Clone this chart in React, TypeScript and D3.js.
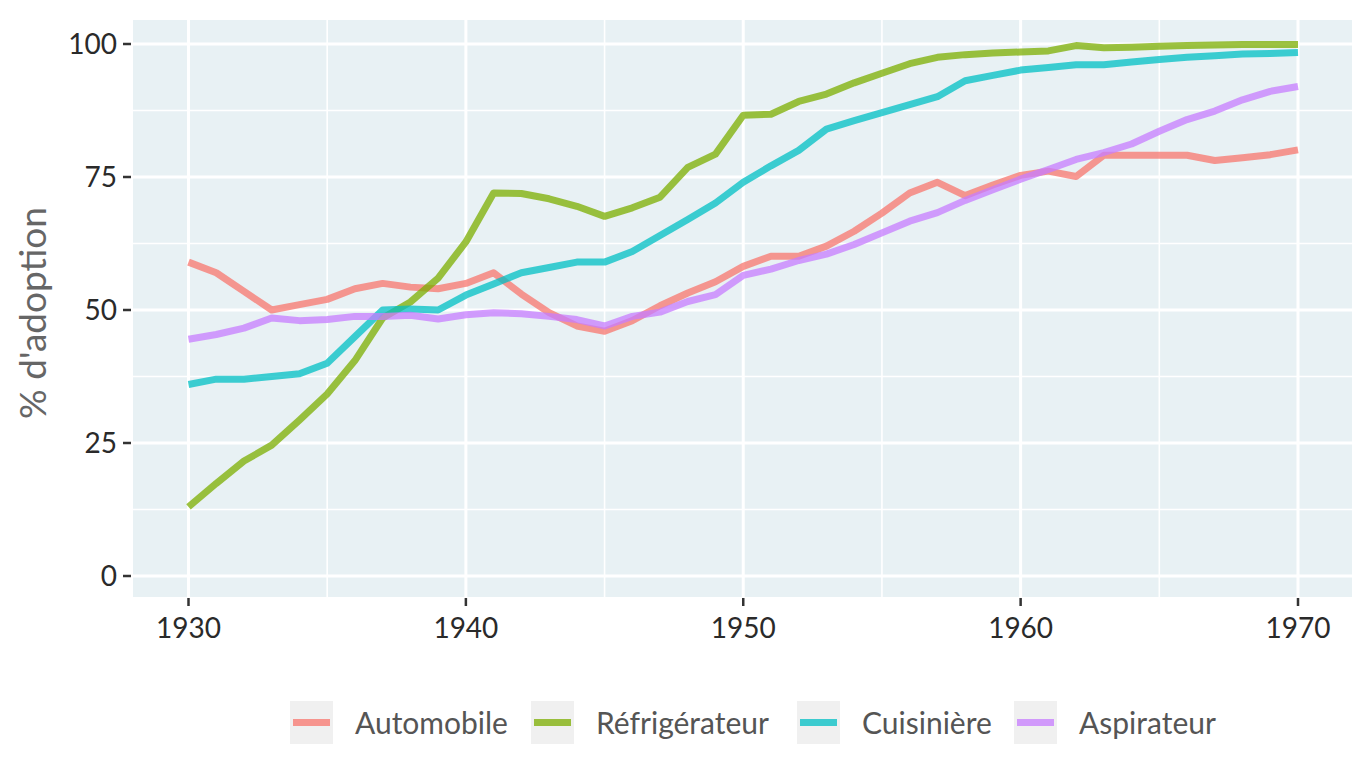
import React from "react";
import * as d3 from "d3";

const years = d3.range(1930, 1971);

const automobile = [59, 57, 53.5, 50, 51, 52, 54, 55, 54.3, 54, 55, 57, 53, 49.5, 47, 46, 48, 50.8, 53.2, 55.3, 58.2, 60.1, 60.1, 62, 64.8, 68.2, 72, 74, 71.5, 73.5, 75.3, 76.1, 75.1, 79.1, 79.1, 79.1, 79.1, 78.1, 78.6, 79.2, 80.1];
const refrigerateur = [13, 17.4, 21.6, 24.6, 29.3, 34.2, 40.5, 48.5, 51.5, 56, 62.8, 72, 71.9, 70.9, 69.5, 67.6, 69.2, 71.2, 76.8, 79.3, 86.6, 86.8, 89.2, 90.6, 92.7, 94.5, 96.3, 97.5, 98, 98.3, 98.5, 98.7, 99.7, 99.3, 99.4, 99.6, 99.7, 99.8, 99.9, 99.9, 99.9];
const cuisiniere = [36, 37, 37, 37.5, 38, 40, 45, 50, 50.2, 50, 52.8, 54.9, 57, 58, 59, 59, 61, 64, 67, 70.1, 74, 77.1, 80, 84, 85.6, 87.1, 88.6, 90.1, 93.1, 94.1, 95.1, 95.6, 96.1, 96.1, 96.6, 97.1, 97.5, 97.8, 98.1, 98.2, 98.4];
const aspirateur = [44.5, 45.4, 46.6, 48.5, 48, 48.2, 48.8, 48.8, 49, 48.3, 49.1, 49.5, 49.3, 48.8, 48.2, 47, 48.8, 49.6, 51.6, 52.9, 56.5, 57.7, 59.3, 60.5, 62.3, 64.5, 66.7, 68.3, 70.6, 72.6, 74.6, 76.4, 78.3, 79.6, 81.2, 83.6, 85.8, 87.4, 89.5, 91.1, 92];

const seriesNames = ["Automobile", "Réfrigérateur", "Cuisinière", "Aspirateur"];
const seriesValues = [automobile, refrigerateur, cuisiniere, aspirateur];
const seriesColors = ["#F8766D", "#7CAE00", "#00BFC4", "#C77CFF"];

const yMajor = [0, 25, 50, 75, 100];
const yMinor = [12.5, 37.5, 62.5, 87.5];
const xMajor = [1930, 1940, 1950, 1960, 1970];
const xMinor = [1935, 1945, 1955, 1965];

export default function App() {
  const W = 1372, H = 784;
  const panel = { left: 133, right: 1352, top: 20, bottom: 597 };
  const x = d3.scaleLinear().domain([1930, 1970]).range([188.5, 1298]);
  const y = d3.scaleLinear().domain([0, 100]).range([576, 44]);
  const line = d3.line<number>().x((_, i) => x(years[i])).y((v) => y(v));

  const legendX = [290, 531, 797, 1014];
  const legendY = 701;
  const font = "Lato, 'Open Sans', sans-serif";

  return (
    <svg width={W} height={H} style={{ position: "absolute", left: 0, top: 0, background: "#fff" }}>
      <rect x={panel.left} y={panel.top} width={panel.right - panel.left} height={panel.bottom - panel.top} fill="#E8F1F4" />
      {yMinor.map((v) => (
        <line key={"ym" + v} x1={panel.left} x2={panel.right} y1={y(v)} y2={y(v)} stroke="#fff" strokeWidth={1.6} />
      ))}
      {xMinor.map((v) => (
        <line key={"xm" + v} y1={panel.top} y2={panel.bottom} x1={x(v)} x2={x(v)} stroke="#fff" strokeWidth={1.6} />
      ))}
      {yMajor.map((v) => (
        <line key={"yM" + v} x1={panel.left} x2={panel.right} y1={y(v)} y2={y(v)} stroke="#fff" strokeWidth={3} />
      ))}
      {xMajor.map((v) => (
        <line key={"xM" + v} y1={panel.top} y2={panel.bottom} x1={x(v)} x2={x(v)} stroke="#fff" strokeWidth={3} />
      ))}
      {seriesValues.map((vals, i) => (
        <path key={seriesNames[i]} d={line(vals) || ""} fill="none" stroke={seriesColors[i]} strokeOpacity={0.75} strokeWidth={7} strokeLinejoin="round" />
      ))}
      {yMajor.map((v) => (
        <g key={"yt" + v}>
          <line x1={123} x2={131} y1={y(v)} y2={y(v)} stroke="#333" strokeWidth={2.5} />
          <text x={117} y={y(v)} dy="0.36em" textAnchor="end" fontFamily={font} fontSize={28} fill="#2a2a2a">{v}</text>
        </g>
      ))}
      {xMajor.map((v) => (
        <g key={"xt" + v}>
          <line x1={x(v)} x2={x(v)} y1={598} y2={606} stroke="#333" strokeWidth={2.5} />
          <text x={x(v)} y={638} textAnchor="middle" fontFamily={font} fontSize={28} fill="#2a2a2a">{v}</text>
        </g>
      ))}
      <text transform="translate(46,313) rotate(-90)" textAnchor="middle" fontFamily={font} fontSize={37} fill="#666">% d'adoption</text>
      {seriesNames.map((n, i) => (
        <g key={"lg" + n}>
          <rect x={legendX[i]} y={legendY} width={43} height={43} fill="#F0F0F0" />
          <line x1={legendX[i] + 3} x2={legendX[i] + 40} y1={legendY + 21.5} y2={legendY + 21.5} stroke={seriesColors[i]} strokeOpacity={0.75} strokeWidth={7} />
          <text x={legendX[i] + 65} y={legendY + 22} dy="0.36em" fontFamily={font} fontSize={30} fill="#555">{n}</text>
        </g>
      ))}
    </svg>
  );
}
